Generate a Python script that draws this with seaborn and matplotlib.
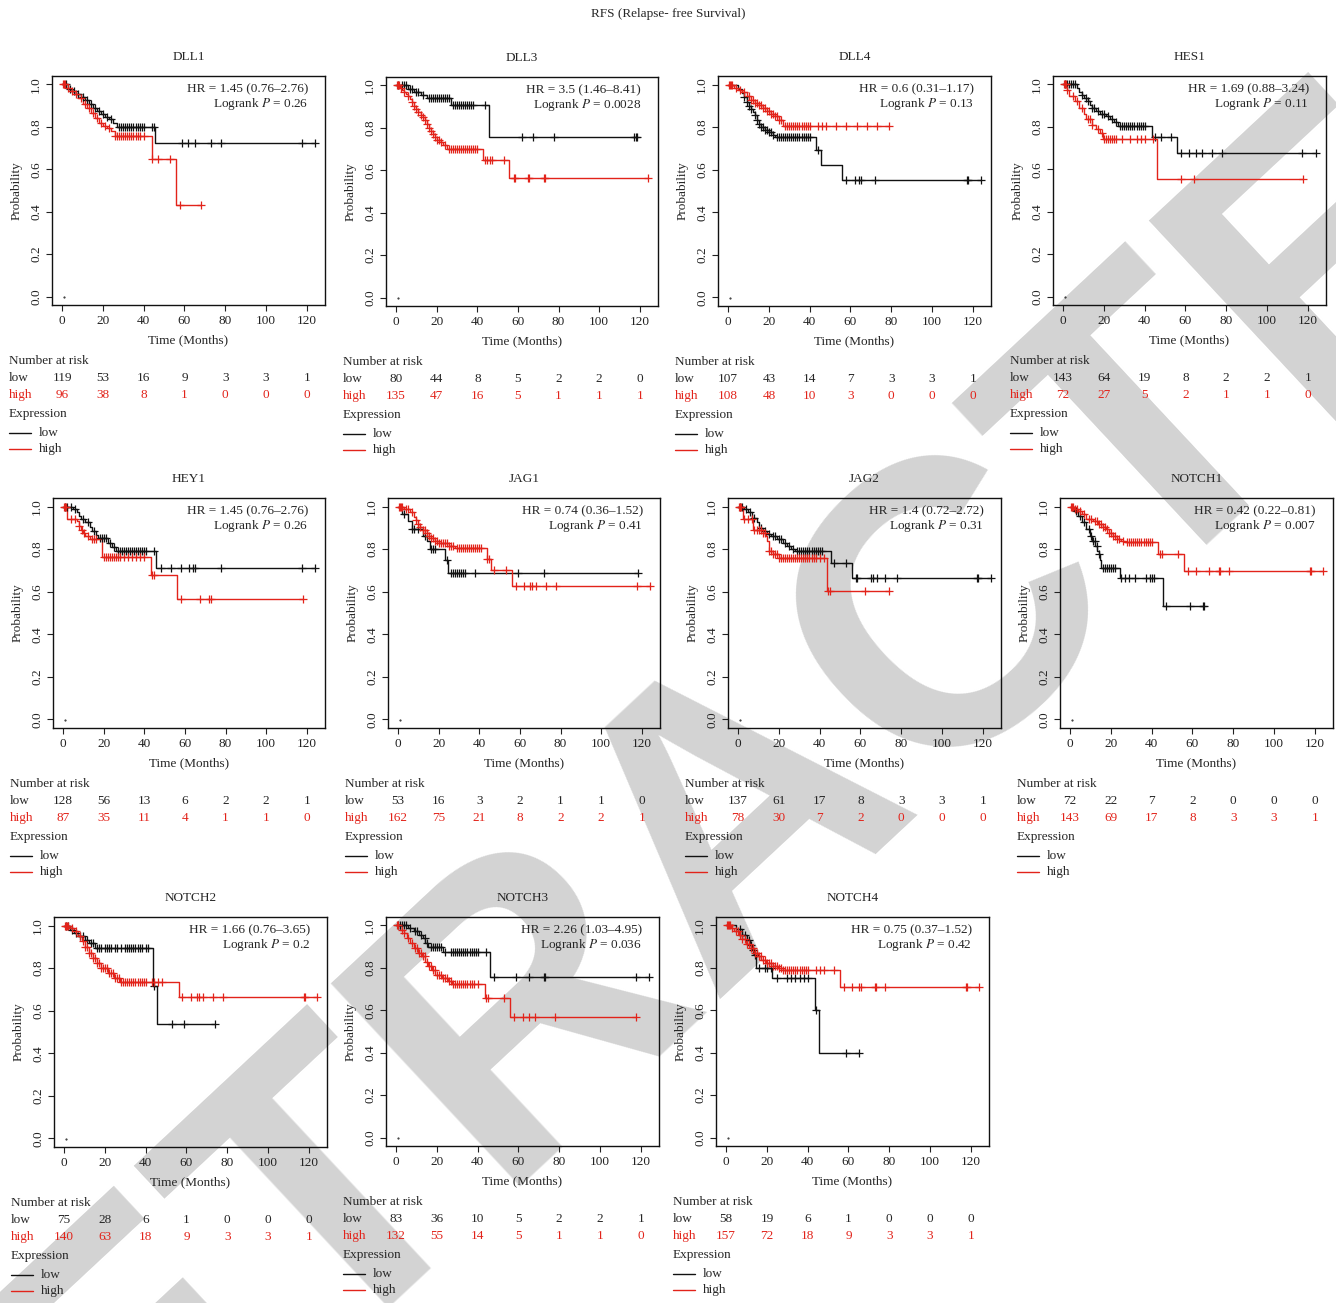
import numpy as np
import matplotlib
matplotlib.use('Agg')
import matplotlib.pyplot as plt
import matplotlib.transforms as mtransforms
from matplotlib.lines import Line2D
import seaborn as sns

# ---- data ----
risk_times = [0, 20, 40, 60, 80, 100, 120]

dll1_low_t = [0, 3, 5, 7, 9, 11, 13, 15, 17, 19, 21, 23, 25, 27, 45.8]
dll1_low_s = [1, 0.98, 0.97, 0.955, 0.94, 0.925, 0.91, 0.89, 0.875, 0.86, 0.845, 0.835, 0.82, 0.80, 0.725]
dll1_low_c = [2, 4, 6, 8, 10, 12, 14, 16, 18, 20, 22, 24, 28, 29, 30, 31, 32, 33, 34, 35, 36, 37, 38, 39, 40, 44, 45, 59, 62, 65, 73, 78, 117.5, 124]
dll1_high_t = [0, 2, 4, 6, 8, 10, 12, 14, 16, 18, 20, 22, 24, 26, 43.9, 55.8]
dll1_high_s = [1, 0.985, 0.97, 0.955, 0.935, 0.91, 0.89, 0.865, 0.84, 0.82, 0.805, 0.795, 0.78, 0.756, 0.65, 0.433]
dll1_high_c = [0.5, 1, 1.5, 3, 5, 7, 9, 11, 13, 15, 17, 19, 21, 23, 26, 27, 28, 29, 30, 31, 32, 33, 34, 35, 36, 37, 38, 40, 44, 47, 53, 58, 68]
dll1_risk_low = [119, 53, 16, 9, 3, 3, 1]
dll1_risk_high = [96, 38, 8, 1, 0, 0, 0]

dll3_low_t = [0, 6, 9, 12, 15, 27, 45.6]
dll3_low_s = [1, 0.985, 0.97, 0.955, 0.94, 0.906, 0.756]
dll3_low_c = [1, 3, 4, 5, 7, 8, 10, 11, 13, 16, 17, 18, 19, 20, 21, 22, 23, 24, 25, 26, 28, 29, 30, 31, 32, 33, 34, 35, 36, 37, 38, 44, 62, 67.5, 78, 117, 118, 118.5]
dll3_high_t = [0, 2, 3, 4, 5, 6, 7, 8, 9, 10, 11, 12, 13, 14, 15, 16, 17, 18, 19, 20, 22, 23, 25, 43, 55.5]
dll3_high_s = [1, 0.99, 0.98, 0.97, 0.96, 0.95, 0.935, 0.92, 0.905, 0.89, 0.875, 0.86, 0.85, 0.835, 0.82, 0.80, 0.785, 0.77, 0.755, 0.745, 0.735, 0.72, 0.70, 0.649, 0.566]
dll3_high_c = [0.5, 1, 1.5, 2.5, 4, 6, 8, 9, 10, 11, 12, 13, 14, 15, 16, 17, 18, 19, 20, 21, 22, 24, 26, 27, 28, 29, 30, 31, 32, 33, 34, 35, 36, 37, 38, 39, 40, 44, 45, 46, 47, 53, 58, 58.5, 65, 65.5, 73, 73.5, 124]
dll3_risk_low = [80, 44, 8, 5, 2, 2, 0]
dll3_risk_high = [135, 47, 16, 5, 1, 1, 1]

dll4_low_t = [0, 5, 7, 8, 9, 10, 11, 12, 13, 14, 15, 16, 18, 20, 22, 23, 43.3, 45.7, 55.8]
dll4_low_s = [1, 0.98, 0.96, 0.94, 0.92, 0.90, 0.885, 0.87, 0.855, 0.835, 0.815, 0.80, 0.785, 0.775, 0.765, 0.753, 0.693, 0.622, 0.551]
dll4_low_c = [8, 9, 10, 11, 13, 14, 15, 16, 17, 18, 19, 20, 21, 22, 24, 25, 26, 27, 28, 29, 30, 31, 32, 33, 34, 35, 36, 37, 38, 39, 40, 44, 58, 62, 64, 65, 72, 117, 117.5, 124]
dll4_high_t = [0, 3, 5, 7, 9, 11, 13, 15, 17, 19, 21, 23, 25, 27]
dll4_high_s = [1, 0.985, 0.975, 0.965, 0.945, 0.925, 0.915, 0.905, 0.89, 0.875, 0.86, 0.85, 0.835, 0.806]
dll4_high_c = [0.5, 1, 1.5, 2, 4, 6, 8, 10, 11, 12, 13, 14, 15, 16, 17, 18, 19, 20, 21, 22, 23, 24, 25, 26, 28, 29, 30, 31, 32, 33, 34, 35, 36, 37, 38, 39, 40, 44, 46, 48, 53, 58, 63, 68, 73, 79]
dll4_risk_low = [107, 43, 14, 7, 3, 3, 1]
dll4_risk_high = [108, 48, 10, 3, 0, 0, 0]

hes1_low_t = [0, 7, 8, 9, 10, 12, 13, 14, 16, 18, 21, 23, 25, 27, 43.4, 55.7]
hes1_low_s = [1, 0.984, 0.965, 0.95, 0.935, 0.92, 0.905, 0.89, 0.875, 0.862, 0.85, 0.838, 0.825, 0.806, 0.751, 0.676]
hes1_low_c = [1, 2, 3, 4, 5, 6, 9, 11, 12, 14, 15, 17, 19, 20, 22, 24, 26, 28, 29, 30, 31, 32, 33, 34, 35, 36, 37, 38, 39, 40, 45, 48, 53, 58, 62, 65, 68, 73, 78, 117, 124]
hes1_high_t = [0, 2, 3, 6, 8, 10, 11, 14, 16, 18, 19.5, 46]
hes1_high_s = [1, 0.975, 0.945, 0.92, 0.89, 0.86, 0.835, 0.81, 0.79, 0.77, 0.743, 0.556]
hes1_high_c = [0.5, 1, 1.5, 2, 5, 7, 9, 12, 13, 14, 17, 19, 20, 21, 22, 23, 24, 25, 26, 29, 33, 36, 38, 40, 44, 58, 64, 117.5]
hes1_risk_low = [143, 64, 19, 8, 2, 2, 1]
hes1_risk_high = [72, 27, 5, 2, 1, 1, 0]

hey1_low_t = [0, 5, 7, 8, 9, 11, 13, 14, 16, 17, 22, 24, 26, 45.7]
hey1_low_s = [1, 0.99, 0.975, 0.955, 0.94, 0.925, 0.905, 0.885, 0.865, 0.85, 0.83, 0.81, 0.79, 0.709]
hey1_low_c = [1, 2, 4, 6, 10, 12, 15, 18, 19, 20, 21, 23, 25, 27, 28, 29, 30, 31, 32, 33, 34, 35, 36, 37, 38, 39, 40, 41, 45, 48, 53, 58, 62, 64, 65, 78, 117.5, 124]
hey1_high_t = [0, 2, 7, 8, 9, 10, 11, 13, 19, 43.4, 56]
hey1_high_s = [1, 0.943, 0.93, 0.91, 0.89, 0.875, 0.86, 0.846, 0.764, 0.68, 0.567]
hey1_high_c = [0.5, 1, 1.5, 4, 6, 8, 9.5, 10.5, 12, 14, 15, 16, 20, 21, 22, 23, 24, 25, 26, 27, 28, 30, 32, 34, 36, 38, 40, 44, 45, 58, 67.5, 72, 73, 118]
hey1_risk_low = [128, 56, 13, 6, 2, 2, 1]
hey1_risk_high = [87, 35, 11, 4, 1, 1, 0]

jag1_low_t = [0, 2, 5, 7, 12, 14, 15.5, 23, 24.5]
jag1_low_s = [1, 0.964, 0.93, 0.896, 0.862, 0.838, 0.80, 0.748, 0.689]
jag1_low_c = [3, 7, 8, 10, 13, 16, 17, 18, 24, 26, 27, 28, 29, 30, 31, 32, 33, 38, 59, 72, 118]
jag1_high_t = [0, 3, 6, 8, 9, 10, 11, 12, 14, 15, 16, 18, 20, 25, 28, 43.8, 45.7, 56.3]
jag1_high_s = [1, 0.987, 0.975, 0.95, 0.935, 0.92, 0.905, 0.89, 0.875, 0.86, 0.85, 0.838, 0.827, 0.815, 0.805, 0.755, 0.701, 0.629]
jag1_high_c = [0.5, 1, 1.5, 2, 4, 5, 7, 9, 10, 11, 12, 13, 14, 15, 16, 17, 18, 19, 20, 21, 22, 23, 24, 25, 26, 27, 29, 30, 31, 32, 33, 34, 35, 36, 37, 38, 39, 40, 41, 44, 45, 47, 53, 58, 62, 65, 66, 68, 73, 78, 117.5, 124]
jag1_risk_low = [53, 16, 3, 2, 1, 1, 0]
jag1_risk_high = [162, 75, 21, 8, 2, 2, 1]

jag2_low_t = [0, 3, 5, 7, 9, 10, 12, 14, 16, 19, 22, 24, 26, 28, 45.6, 55.7]
jag2_low_s = [1, 0.987, 0.972, 0.948, 0.925, 0.90, 0.885, 0.87, 0.862, 0.846, 0.83, 0.814, 0.80, 0.792, 0.733, 0.665]
jag2_low_c = [1, 2, 4, 6, 8, 11, 13, 15, 17, 18, 20, 21, 23, 25, 27, 29, 30, 31, 32, 33, 34, 35, 36, 37, 38, 39, 40, 41, 47, 53, 58, 58.5, 65, 66, 68, 72, 78, 117, 117.5, 124]
jag2_high_t = [0, 2.3, 7.5, 12, 13.5, 14.2, 15, 17, 19.9, 43.5]
jag2_high_s = [1, 0.94, 0.89, 0.875, 0.862, 0.838, 0.79, 0.775, 0.759, 0.605]
jag2_high_c = [0.5, 1, 1.5, 3, 5, 7, 8, 9, 10, 11, 12, 13, 15, 16, 17, 18, 19, 20, 21, 22, 23, 24, 25, 26, 27, 28, 29, 30, 31, 32, 33, 34, 35, 36, 37, 38, 40, 42, 44, 45, 62, 74]
jag2_risk_low = [137, 61, 17, 8, 3, 3, 1]
jag2_risk_high = [78, 30, 7, 2, 0, 0, 0]

notch1_low_t = [0, 2, 4, 6, 8, 9.5, 10.6, 12.3, 13.1, 13.9, 14.7, 15.1, 24.6, 45.8]
notch1_low_s = [1, 0.98, 0.956, 0.925, 0.893, 0.862, 0.838, 0.814, 0.791, 0.775, 0.75, 0.709, 0.665, 0.531]
notch1_low_c = [3, 5, 7, 9, 10, 11, 12, 13, 14, 16, 17, 18, 19, 20, 21, 22, 25, 27, 29, 32, 37, 39, 40, 41, 47, 59, 65, 65.5]
notch1_high_t = [0, 2, 4, 6, 8, 11, 13.5, 16, 17.5, 19, 21, 23, 25, 27, 42.9, 55.7]
notch1_high_s = [1, 0.99, 0.98, 0.964, 0.943, 0.932, 0.917, 0.906, 0.893, 0.877, 0.862, 0.846, 0.84, 0.833, 0.775, 0.698]
notch1_high_c = [0.5, 1, 1.5, 2.5, 3.5, 5, 7, 9, 10, 12, 13, 14, 15, 16, 17, 18, 19, 20, 21, 22, 23, 24, 26, 28, 29, 30, 31, 32, 33, 34, 35, 36, 37, 38, 39, 40, 44, 45, 53, 58, 62, 68, 73, 73.5, 78, 117.5, 118, 124]
notch1_risk_low = [72, 22, 7, 2, 0, 0, 0]
notch1_risk_high = [143, 69, 17, 8, 3, 3, 1]

notch2_low_t = [0, 3, 5, 7, 10, 12, 15, 43.6, 45.7]
notch2_low_s = [1, 0.981, 0.965, 0.95, 0.934, 0.918, 0.895, 0.717, 0.538]
notch2_low_c = [1, 2, 4, 6, 8, 9, 11, 13, 14, 16, 17, 18, 20, 21, 22, 23, 25, 26, 28, 30, 31, 32, 33, 34, 35, 36, 37, 38, 40, 41, 44, 53, 59, 74]
notch2_high_t = [0, 2.8, 5, 6.9, 8.5, 10, 12, 14, 16, 18, 21.5, 24.5, 27.3, 56.2]
notch2_high_s = [1, 0.989, 0.973, 0.953, 0.926, 0.90, 0.871, 0.848, 0.824, 0.80, 0.777, 0.754, 0.733, 0.664]
notch2_high_c = [0.5, 1, 1.5, 2, 4, 6, 8, 9, 10, 11, 12, 13, 14, 15, 16, 17, 18, 19, 20, 21, 22, 23, 24, 25, 26, 27, 28, 29, 30, 31, 32, 33, 34, 35, 36, 37, 38, 39, 40, 43, 44, 46, 48, 58, 62, 65, 66, 68, 73, 78, 117.5, 118, 124]
notch2_risk_low = [75, 28, 6, 1, 0, 0, 0]
notch2_risk_high = [140, 63, 18, 9, 3, 3, 1]

notch3_low_t = [0, 6, 8.5, 11, 13, 14.2, 15.8, 23.2, 46]
notch3_low_s = [1, 0.987, 0.972, 0.956, 0.94, 0.917, 0.898, 0.873, 0.759]
notch3_low_c = [1, 2, 3, 4, 5, 7, 9, 10, 12, 14, 15, 17, 18, 19, 20, 21, 22, 24, 27, 28, 29, 30, 31, 32, 33, 34, 35, 36, 37, 38, 39, 40, 44, 48, 59, 65, 72.5, 73, 117.5, 124]
notch3_high_t = [0, 2, 3.6, 5.2, 6.9, 8.5, 10.9, 12.6, 14.2, 15.8, 17.5, 19.1, 22.4, 25.6, 27.3, 43.6, 55.8]
notch3_high_s = [1, 0.98, 0.964, 0.94, 0.917, 0.893, 0.869, 0.854, 0.83, 0.807, 0.79, 0.767, 0.752, 0.736, 0.725, 0.66, 0.568]
notch3_high_c = [0.5, 1, 3, 4, 6, 8, 9, 10, 11, 12, 13, 14, 15, 16, 17, 18, 19, 20, 21, 22, 23, 24, 25, 26, 27, 28, 29, 30, 31, 32, 33, 34, 35, 36, 37, 38, 40, 44, 45, 53, 58, 62, 65, 68, 78, 117.5]
notch3_risk_low = [83, 36, 10, 5, 2, 2, 1]
notch3_risk_high = [132, 55, 14, 5, 1, 1, 0]

notch4_low_t = [0, 5, 8, 10, 11.5, 12.6, 13.6, 14.7, 22.4, 43.4, 45.8]
notch4_low_s = [1, 0.983, 0.956, 0.932, 0.909, 0.885, 0.862, 0.80, 0.752, 0.60, 0.398]
notch4_low_c = [7, 8, 9, 11, 12, 13, 14, 16, 19, 20, 22, 25, 30, 32, 34, 36, 38, 40, 44, 59, 65]
notch4_high_t = [0, 2.5, 4, 6.5, 8, 9.8, 12, 13.6, 15.6, 17.2, 19.6, 22.9, 25.4, 27.8, 55.7]
notch4_high_s = [1, 0.987, 0.972, 0.956, 0.936, 0.914, 0.893, 0.869, 0.854, 0.838, 0.822, 0.81, 0.80, 0.788, 0.712]
notch4_high_c = [0.5, 1, 1.5, 2, 3, 5, 6, 7, 8, 9, 10, 11, 12, 13, 14, 15, 16, 17, 18, 19, 20, 21, 22, 23, 24, 25, 26, 27, 28, 29, 30, 31, 32, 33, 34, 35, 36, 37, 38, 39, 40, 44, 46, 48, 53, 58, 62, 65, 66, 73, 73.5, 78, 117.5, 118, 124]
notch4_risk_low = [58, 19, 6, 1, 0, 0, 0]
notch4_risk_high = [157, 72, 18, 9, 3, 3, 1]

genes = ['DLL1', 'DLL3', 'DLL4', 'HES1', 'HEY1', 'JAG1', 'JAG2', 'NOTCH1', 'NOTCH2', 'NOTCH3', 'NOTCH4']
hr_labels = ['1.45 (0.76–2.76)', '3.5 (1.46–8.41)', '0.6 (0.31–1.17)', '1.69 (0.88–3.24)',
             '1.45 (0.76–2.76)', '0.74 (0.36–1.52)', '1.4 (0.72–2.72)', '0.42 (0.22–0.81)',
             '1.66 (0.76–3.65)', '2.26 (1.03–4.95)', '0.75 (0.37–1.52)']
p_labels = ['0.26', '0.0028', '0.13', '0.11', '0.26', '0.41', '0.31', '0.007', '0.2', '0.036', '0.42']

curves = [
    (dll1_low_t, dll1_low_s, dll1_low_c, dll1_high_t, dll1_high_s, dll1_high_c, dll1_risk_low, dll1_risk_high),
    (dll3_low_t, dll3_low_s, dll3_low_c, dll3_high_t, dll3_high_s, dll3_high_c, dll3_risk_low, dll3_risk_high),
    (dll4_low_t, dll4_low_s, dll4_low_c, dll4_high_t, dll4_high_s, dll4_high_c, dll4_risk_low, dll4_risk_high),
    (hes1_low_t, hes1_low_s, hes1_low_c, hes1_high_t, hes1_high_s, hes1_high_c, hes1_risk_low, hes1_risk_high),
    (hey1_low_t, hey1_low_s, hey1_low_c, hey1_high_t, hey1_high_s, hey1_high_c, hey1_risk_low, hey1_risk_high),
    (jag1_low_t, jag1_low_s, jag1_low_c, jag1_high_t, jag1_high_s, jag1_high_c, jag1_risk_low, jag1_risk_high),
    (jag2_low_t, jag2_low_s, jag2_low_c, jag2_high_t, jag2_high_s, jag2_high_c, jag2_risk_low, jag2_risk_high),
    (notch1_low_t, notch1_low_s, notch1_low_c, notch1_high_t, notch1_high_s, notch1_high_c, notch1_risk_low, notch1_risk_high),
    (notch2_low_t, notch2_low_s, notch2_low_c, notch2_high_t, notch2_high_s, notch2_high_c, notch2_risk_low, notch2_risk_high),
    (notch3_low_t, notch3_low_s, notch3_low_c, notch3_high_t, notch3_high_s, notch3_high_c, notch3_risk_low, notch3_risk_high),
    (notch4_low_t, notch4_low_s, notch4_low_c, notch4_high_t, notch4_high_s, notch4_high_c, notch4_risk_low, notch4_risk_high),
]

# axes boxes in pixels: left, top, right, bottom
boxes = [(52, 76, 325, 305), (386, 77, 658, 306), (718, 76, 991, 306), (1053, 76, 1326, 305),
         (53, 498, 325, 728), (388, 498, 660, 728), (728, 498, 1001, 728), (1060, 498, 1333, 728),
         (54, 917, 327, 1147), (386, 917, 659, 1146), (716, 917, 989, 1146)]

W, H = 1336, 1303
RED = '#e2231a'
BLACK = '#111111'
FS = 9.5

sns.set_theme(style='ticks')
plt.rcParams['font.family'] = ['Liberation Serif', 'DejaVu Serif']
plt.rcParams['mathtext.fontset'] = 'stix'

fig = plt.figure(figsize=(W / 100, H / 100), dpi=100)
fig.patch.set_facecolor('white')

# watermark behind everything
fig.text(742 / W, 1 - 812 / H, 'RETRACTED', rotation=43, fontsize=290, color='#d3d3d3',
         family='Liberation Sans', weight='bold', ha='center', va='center', zorder=-5)

fig.text(0.5, 1 - 14 / H, 'RFS (Relapse- free Survival)', ha='center', va='center', fontsize=FS)


def km(ax, t, s, c, col):
    x = list(t) + [max(c + list(t))]
    y = list(s) + [s[-1]]
    sns.lineplot(x=x, y=y, drawstyle='steps-post', estimator=None, sort=False,
                 color=col, linewidth=1.0, ax=ax)
    idx = np.searchsorted(np.array(t), np.array(c), side='right') - 1
    yc = np.array(s)[idx]
    sns.scatterplot(x=c, y=yc, marker='+', s=30, color=col, linewidth=0.9, ax=ax, zorder=3)


for i, gene in enumerate(genes):
    l, t, r, b = boxes[i]
    ax = fig.add_axes([l / W, 1 - b / H, (r - l) / W, (b - t) / H])
    ax.set_facecolor('none')
    lt, ls, lc, ht, hs, hc, rl, rh = curves[i]
    km(ax, lt, ls, lc, BLACK)
    km(ax, ht, hs, hc, RED)
    ax.plot([1], [-0.003], marker='.', markersize=1, color='k')

    ax.set_xlim(-5, 129)
    ax.set_ylim(-0.04, 1.04)
    ax.set_xticks(risk_times)
    ax.set_yticks([0, 0.2, 0.4, 0.6, 0.8, 1.0])
    ax.set_yticklabels(['0.0', '0.2', '0.4', '0.6', '0.8', '1.0'], rotation=90, va='center')
    ax.tick_params(direction='out', length=4, width=0.8, labelsize=FS, pad=3, colors='#222222')
    for sp in ax.spines.values():
        sp.set_visible(True)
        sp.set_linewidth(1.0)
        sp.set_color('#111111')
    wpx, hpx = r - l, b - t
    ax.set_xlabel('Time (Months)', fontsize=FS)
    ax.set_ylabel('Probability', fontsize=FS)
    ax.xaxis.set_label_coords(0.5, -29 / hpx)
    ax.yaxis.set_label_coords(-29 / wpx, 0.5)
    ax.text(0.5, 1 + 19 / hpx, gene, transform=ax.transAxes, ha='center', va='center', fontsize=FS)
    ax.text(1 - 17 / wpx, 1 - 13 / hpx, 'HR = ' + hr_labels[i], transform=ax.transAxes,
            ha='right', va='center', fontsize=FS)
    ax.text(1 - 17 / wpx, 1 - 28 / hpx, 'Logrank $P$ = ' + p_labels[i], transform=ax.transAxes,
            ha='right', va='center', fontsize=FS)

    # number at risk table
    tr = mtransforms.blended_transform_factory(ax.transData, fig.transFigure)
    x0 = (l - 43) / W
    fig.text(x0, 1 - (b + 56) / H, 'Number at risk', ha='left', va='center', fontsize=FS)
    fig.text(x0, 1 - (b + 73) / H, 'low', ha='left', va='center', fontsize=FS)
    fig.text(x0, 1 - (b + 90) / H, 'high', ha='left', va='center', fontsize=FS, color=RED)
    for tt, nl, nh in zip(risk_times, rl, rh):
        ax.text(tt, 1 - (b + 73) / H, str(nl), transform=tr, ha='center', va='center', fontsize=FS, clip_on=False)
        ax.text(tt, 1 - (b + 90) / H, str(nh), transform=tr, ha='center', va='center', fontsize=FS,
                color=RED, clip_on=False)
    fig.text(x0, 1 - (b + 109) / H, 'Expression', ha='left', va='center', fontsize=FS)
    for k, (lab, col) in enumerate([('low', BLACK), ('high', RED)]):
        yy = 1 - (b + 128 + 16 * k) / H
        fig.add_artist(Line2D([x0, (l - 21) / W], [yy, yy], color=col, linewidth=1.0,
                              transform=fig.transFigure))
        fig.text((l - 13) / W, yy, lab, ha='left', va='center', fontsize=FS)

fig.savefig('out.png', dpi=100, facecolor='white')
